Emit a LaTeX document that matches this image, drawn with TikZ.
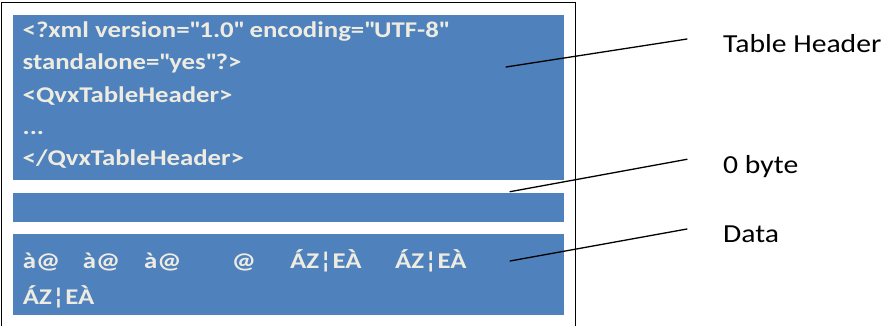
\documentclass[tikz,border=0pt]{standalone}
\usepackage{fontspec}
\setmainfont{Carlito}
\newfontfamily\boxfont[FakeStretch=1.19,Ligatures=TeXOff]{Carlito}
\newfontfamily\lblfont[FakeStretch=1.14]{Carlito}
\definecolor{boxblue}{HTML}{4F81BD}
\definecolor{cream}{HTML}{EEECE1}
\begin{document}
\begin{tikzpicture}[x=1pt,y=-1pt,
  blk/.style={fill=boxblue,draw=none},
  btxt/.style={anchor=base west,inner sep=0pt,text=cream,font=\boxfont\fontsize{22.5}{27}\selectfont\bfseries},
  lbl/.style={anchor=base west,inner sep=0pt,font=\lblfont\fontsize{26}{30}\selectfont},
  lead/.style={line width=1.3pt,line cap=round}]
\useasboundingbox (0,0) rectangle (881,326);
% frame
\draw[line width=1.2pt] (1.5,330) -- (1.5,2.5) -- (575.5,2.5) -- (575.5,330);
% blocks
\path[blk] (13,15) rectangle (564,180);
\path[blk] (13,193) rectangle (564,222);
\path[blk] (13,234) rectangle (564,315);
% header text
\node[btxt] (t1) at (22.5,37.3) {<?xml version=\textquotedbl 1.0\textquotedbl\ encoding=\textquotedbl UTF-8\textquotedbl};
\node[btxt] (t2) at (22.5,69.8) {standalone=\textquotedbl yes\textquotedbl ?>};
\node[btxt] (t3) at (22.5,102.3) {<QvxTableHeader>};
\node[btxt] (t4) at (22.5,134.5) {...};
\node[btxt] (t5) at (22.5,165.8) {</QvxTableHeader>};
% data text
\node[btxt] (d1) at (22.7,268.3) {à@};
\node[btxt] (d2) at (82.7,268.3) {à@};
\node[btxt] (d3) at (144,268.3) {à@};
\node[btxt] (d4) at (231.7,268.3) {@};
\node[btxt] (d5) at (290,268.3) {ÁZ¦EÀ};
\node[btxt] (d6) at (395,268.3) {ÁZ¦EÀ};
\node[btxt] (d7) at (22.7,304) {ÁZ¦EÀ};
% labels
\node[lbl] (l1) at (723,52.7) {Table Header};
\node[lbl] (l2) at (723,173.3) {0 byte};
\node[lbl] (l3) at (723,242.7) {Data};
% leader lines
\coordinate (a1) at (506,67);   \coordinate (b1) at (687,39);
\coordinate (a2) at (510,191.7); \coordinate (b2) at (687,159.3);
\coordinate (a3) at (510,261);  \coordinate (b3) at (687,229);
\draw[lead] (a1) -- (b1);
\draw[lead] (a2) -- (b2);
\draw[lead] (a3) -- (b3);
\end{tikzpicture}
\end{document}
